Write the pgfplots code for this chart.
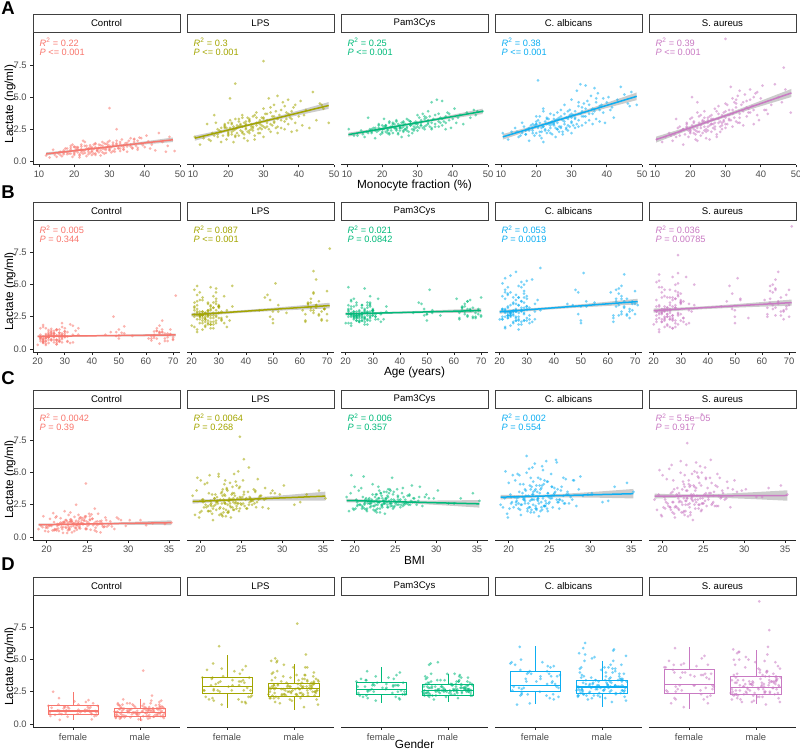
\documentclass[border=0pt]{standalone}
\usepackage{fontspec}
\setmainfont{Liberation Sans}
\usepackage{pgfplots}
\pgfplotsset{compat=1.18}
\usepackage{pgfplotstable}
\usepgfplotslibrary{statistics}

\definecolor{cC}{HTML}{F8766D}
\definecolor{cL}{HTML}{A3A500}
\definecolor{cP}{HTML}{00BA7A}
\definecolor{cA}{HTML}{0DAEF2}
\definecolor{cS}{HTML}{C97AC3}

\pgfplotstableread{
m age bmi sex jit c l p a s
30 71 24.8 2 0.05 4.15 7.8 nan 3.4 9.55
22 65 25.3 1 -0.12 1.3 6.05 3.1 3.9 4.6
46.5 29 23 2 0.2 1.2 4.4 3.6 4.3 7.3
20.5 35 22.2 2 -0.25 1.1 4.9 3.3 6.3 5.0
32 48 23.6 1 -0.3 2.5 4.2 3.5 4.6 4.9
12 22 21.5 2 0.15 0.45 1.3 2.0 1.7 1.5
14 24 20.3 2 -0.33 0.9 2.9 2.4 2.6 2.2
15 27 23.1 1 0.28 0.35 1.6 1.9 1.9 1.6
16 21 19.5 2 -0.05 0.75 3.6 3.4 3.0 3.3
17 28 22.8 2 0.34 0.55 1.9 2.2 2.1 2.0
18 26 24.5 1 -0.2 1.0 2.6 2.6 2.4 2.5
18.5 23 21.0 2 0.1 0.6 2.0 2.3 2.8 2.1
19 30 26.2 2 -0.36 0.9 2.8 2.9 2.2 2.7
19.5 25 22.3 1 0.22 1.3 1.7 2.1 2.0 1.9
20 22 20.7 2 -0.14 0.5 2.3 2.5 3.1 2.4
20.5 64 27.4 2 0.3 0.8 3.2 2.7 2.6 3.4
21 27 24.0 2 -0.27 0.7 2.1 2.3 2.3 2.2
21 33 23.5 1 0.08 1.1 3.0 2.8 3.5 3.0
21.5 24 19.8 2 0.36 0.45 1.5 2.2 1.8 1.7
22 29 25.0 2 -0.09 0.85 2.5 2.6 2.7 2.6
22 21 21.8 1 0.18 0.95 3.3 3.0 4.1 3.8
22.5 68 28.3 2 -0.32 0.6 2.2 2.4 2.4 2.3
23 26 22.9 2 0.25 1.2 2.7 2.7 2.9 2.8
23 50 24.7 1 -0.22 1.5 2.0 2.2 2.2 2.0
23.5 23 20.2 2 0.12 0.4 2.9 2.9 3.3 3.1
24 31 26.8 2 -0.38 0.95 2.3 2.5 2.6 2.4
24 63 23.3 1 0.33 1.0 3.6 3.2 3.7 3.9
24.5 25 21.4 2 -0.03 0.65 1.8 2.1 2.1 1.8
25 28 24.2 2 0.2 1.1 2.6 2.8 3.0 3.2
25 22 22.0 1 -0.17 0.75 3.1 2.6 2.8 2.7
25.5 66 29.1 2 0.07 1.3 3.4 3.0 3.2 3.5
26 27 20.9 2 -0.29 0.5 2.4 2.4 2.5 2.3
26 34 25.6 1 0.37 1.4 2.2 2.3 3.8 2.9
26.5 24 23.8 2 -0.1 0.9 2.9 2.9 3.4 3.3
27 29 22.6 2 0.16 1.05 3.5 3.3 4.0 4.1
27 70 26.0 2 -0.35 0.7 2.7 2.6 2.7 2.5
27.5 21 19.3 1 0.27 0.85 1.7 2.0 2.3 2.1
28 26 24.9 2 -0.24 1.2 3.0 2.8 3.1 3.0
28 49 27.9 2 0.04 1.0 3.8 3.1 4.4 4.3
28.5 23 21.2 2 0.31 0.6 2.5 2.5 2.6 2.7
29 30 23.0 1 -0.13 1.35 3.2 3.0 3.3 3.6
29 62 24.4 2 0.21 1.0 2.2 2.4 2.4 2.5
29.5 25 22.1 2 -0.31 1.15 2.8 2.9 3.6 3.2
30 28 20.5 1 0.11 0.9 4.1 3.6 4.8 4.5
30 35 25.3 2 -0.19 1.6 3.3 2.9 3.0 3.4
30.5 24 23.6 2 0.35 0.7 2.6 2.6 2.8 2.9
31 67 26.5 1 -0.06 1.2 3.7 3.2 3.9 4.0
31 27 21.7 2 0.24 1.45 3.0 2.8 3.4 3.3
31.5 22 24.1 2 -0.34 0.95 4.9 3.7 5.5 5.8
32 31 22.4 2 0.14 1.3 2.9 2.7 3.2 3.7
32.5 26 25.8 1 -0.23 1.05 3.5 3.4 6.0 4.6
33 69 27.2 2 0.29 1.5 3.1 3.0 3.5 3.1
33 23 20.0 2 -0.01 0.8 4.4 3.9 4.2 4.8
33.5 29 23.9 1 0.19 1.7 3.9 3.5 4.5 5.1
34 51 24.6 2 -0.28 1.25 5.1 4.6 5.9 5.5
34 25 21.9 2 0.09 1.1 2.7 2.6 3.0 3.0
34.5 64 28.8 1 -0.37 1.4 3.6 3.3 4.7 4.4
35 28 22.7 2 0.26 0.75 3.2 2.9 3.7 3.9
35.5 21 19.6 2 -0.15 1.6 4.6 4.8 5.1 5.2
36 33 26.3 2 0.32 1.8 2.5 2.7 2.9 3.5
36 65 24.3 1 -0.08 1.3 4.3 3.7 4.1 4.7
36.5 24 23.2 2 0.17 1.0 3.8 3.4 5.7 4.1
37 27 21.1 2 -0.26 1.5 4.8 4.7 4.9 5.6
37 52 25.5 1 0.02 1.75 2.9 2.8 3.3 3.8
37.5 30 22.5 2 0.36 1.2 3.4 3.1 5.3 4.3
38 68 27.6 2 -0.18 0.9 2.3 2.5 3.1 2.9
38.5 22 20.8 1 0.23 1.85 4.2 3.8 4.4 5.3
39 26 24.0 2 -0.3 1.4 3.0 3.2 3.8 3.6
40 63 26.7 2 0.13 1.1 3.5 3.3 4.6 4.9
40.5 29 22.2 1 -0.21 2.0 4.7 4.1 5.0 5.9
41 25 23.4 2 0.06 1.55 2.8 3.0 4.0 4.0
42 47 30.2 2 0.3 1.3 4.0 3.6 3.4 3.7
43 23 21.3 1 -0.35 0.85 2.6 2.9 4.8 4.4
44 66 25.9 2 0.18 2.2 5.4 3.8 5.8 6.0
45 28 24.2 2 -0.11 1.5 3.2 3.4 5.2 5.0
46 70 27.0 1 0.28 0.75 4.5 4.0 4.5 4.6
47 32 22.9 2 -0.25 1.9 4.1 3.9 5.4 5.6
48.5 61 28.0 2 0.1 0.8 3.0 3.9 4.4 3.8
13 20 22.5 1 -0.2 0.3 1.8 2.0 2.3 1.9
15.5 31 24.8 2 0.05 0.6 2.2 2.3 2.0 2.1
16.5 65 26.1 2 -0.3 0.4 3.0 2.5 2.7 2.6
17.5 24 21.6 2 0.33 1.0 2.4 2.6 2.5 2.4
18 22 23.7 1 -0.08 0.55 1.5 1.8 1.6 1.3
19 68 27.8 2 0.19 1.2 2.9 2.8 2.9 3.0
20 26 20.1 2 -0.35 0.7 2.0 2.2 2.2 2.3
20.5 29 25.2 1 0.25 0.95 2.6 2.5 3.2 2.8
21 50 23.9 2 -0.15 1.05 2.3 2.7 2.0 2.5
21.5 23 22.0 2 0.02 0.3 2.7 2.4 2.6 2.1
22 27 19.9 1 -0.27 0.7 1.9 2.1 1.5 1.6
23 63 29.7 2 0.37 0.85 3.3 3.0 3.3 3.6
23.5 30 24.4 2 -0.04 1.0 2.4 2.6 2.4 2.2
24 22 21.0 2 0.2 0.55 3.4 3.1 3.0 3.4
24.5 25 23.1 1 -0.32 1.25 2.1 2.2 2.9 2.5
25 55 26.4 2 0.13 1.0 2.8 2.6 3.6 2.4
25.5 28 22.7 2 -0.21 0.6 1.6 1.9 1.9 1.7
26 69 25.1 2 0.3 1.1 3.1 2.7 3.0 3.3
26.5 21 20.6 1 -0.11 0.85 2.5 2.5 2.3 2.6
27 24 24.6 2 0.34 1.3 2.6 2.4 2.6 3.0
27.5 32 23.4 2 -0.36 0.45 2.0 2.3 2.1 1.9
28 66 28.6 1 0.08 1.5 3.4 3.1 3.7 3.7
28.5 26 21.5 2 -0.18 0.95 2.2 2.2 2.5 2.3
29 22 22.8 2 0.26 0.65 2.9 2.7 3.9 2.8
29.5 49 31.5 2 -0.07 1.3 2.5 2.6 2.7 3.1
30 27 23.3 1 0.17 1.0 1.9 2.4 2.2 2.6
31 62 26.9 2 -0.29 0.8 2.7 2.8 2.6 3.2
32 25 20.4 2 0.04 1.4 2.3 2.5 2.7 2.7
33 29 24.5 1 -0.24 1.0 3.0 2.9 2.8 4.2
34 70 25.7 2 0.31 0.9 2.2 2.5 3.5 3.4
35 23 22.1 2 -0.13 1.15 2.6 2.7 3.2 2.8
36.5 30 33.0 1 0.21 1.05 3.3 3.0 3.9 3.8
38 64 24.8 2 -0.33 1.6 3.9 3.5 4.3 5.0
39.5 28 23.6 2 0.09 1.25 2.4 2.6 3.0 3.2
41.5 26 34.5 1 -0.22 1.0 3.6 3.4 4.2 4.0
20 45 35.3 2 0.27 1.1 3.0 2.8 3.5 3.3
24 24 32.2 2 -0.16 0.9 2.7 2.6 2.8 3.1
26 21 19.0 2 0.12 0.6 3.2 3.1 2.5 2.9
14.5 33 22.6 2 -0.28 0.5 1.7 2.1 2.3 2.0
17 62 24.1 1 0.35 0.65 2.1 2.3 2.1 2.7
19.5 27 26.6 2 -0.02 0.35 2.6 2.5 2.8 2.4
22.5 30 21.2 1 0.3 1.6 2.8 2.6 3.1 3.5
10.5 26 23.4 2 -0.06 nan 1.9 2.5 2.2 1.7
18 25 22.4 2 0.14 0.7 2.3 2.4 2.6 2.5
19 23 24.3 2 -0.19 1.05 2.7 2.6 2.4 2.9
20 28 21.9 1 0.32 0.6 2.1 2.3 2.9 2.2
21 26 23.6 2 -0.07 0.9 2.9 2.8 3.0 3.1
21.5 31 25.4 2 0.21 0.55 2.4 2.5 2.3 2.4
22 24 20.9 2 -0.3 1.15 2.0 2.2 2.7 2.3
22.5 22 23.0 1 0.07 0.8 2.6 2.7 2.5 3.0
23 27 24.8 2 -0.24 0.65 3.1 2.9 3.4 2.6
23.5 65 26.2 2 0.27 1.2 2.8 2.6 2.9 3.2
24 29 22.3 2 -0.12 0.75 2.2 2.4 2.2 2.7
24.5 21 21.7 1 0.18 1.1 3.0 2.9 3.1 2.3
25 26 25.9 2 -0.36 0.5 2.5 2.4 2.9 3.4
25.5 23 23.7 2 0.03 0.95 2.3 2.6 2.6 2.8
26 30 22.9 2 0.3 1.35 3.3 3.0 3.3 3.6
26.5 67 24.0 1 -0.2 0.8 2.7 2.5 2.7 2.9
27 25 21.3 2 0.11 1.0 2.4 2.7 3.5 2.7
27.5 28 26.7 2 -0.28 1.25 3.6 3.2 3.2 3.9
28 22 23.5 2 0.23 0.7 2.8 2.8 2.9 3.3
28.5 64 25.6 2 -0.09 1.4 3.0 2.9 3.4 3.1
29 24 22.6 1 0.35 0.9 2.6 2.5 2.8 3.0
29.5 27 24.1 2 -0.33 1.5 3.4 3.1 4.0 3.8
30 21 20.3 2 0.08 0.85 2.7 2.7 3.1 2.9
30.5 29 23.2 2 -0.16 1.1 3.7 3.4 3.6 4.4
31 66 27.3 1 0.26 1.3 3.2 3.0 3.3 3.6
31.5 25 21.8 2 -0.04 0.75 2.5 2.6 2.9 3.2
32 23 24.7 2 0.16 1.6 3.8 3.3 4.3 4.0
32.5 28 22.0 2 -0.27 1.0 2.8 2.8 3.7 3.4
33 63 25.3 2 0.33 1.35 3.5 3.2 3.9 4.5
33.5 26 23.0 1 -0.14 1.2 2.6 2.7 3.5 3.0
34 30 21.4 2 0.2 0.95 3.3 3.0 4.1 3.7
35 24 24.4 2 -0.31 1.45 4.0 3.6 4.4 4.6
36 69 26.0 2 0.06 1.15 3.1 3.1 3.7 4.2
37 22 22.7 2 0.29 1.7 3.7 3.3 4.6 4.8
38 27 23.8 1 -0.1 1.05 3.3 3.0 4.0 4.0
39 65 25.2 2 0.17 1.8 4.4 3.7 4.9 5.4
16 29 21.2 2 -0.23 0.5 2.0 2.2 2.2 1.9
17 23 23.3 2 0.28 0.85 2.5 2.5 2.4 2.3
19 67 24.9 1 -0.34 0.6 2.6 2.4 2.6 2.6
20 24 22.8 2 0.13 1.15 2.2 2.5 2.9 2.5
25 50 27.1 2 -0.05 0.8 2.9 2.7 3.3 3.0
30 52 23.9 1 0.24 1.2 3.4 3.0 3.7 3.9
}\donors

\pgfplotsset{
  fp/.style={scale only axis, width=147pt, height=131.5pt, anchor=south west,
    ymin=-0.25, ymax=10,
    axis x line=bottom, axis y line=left,
    axis line style={-, black!85, line width=0.55pt},
    tick style={black!85, line width=0.55pt}, major tick length=2.75pt, tick align=outside,
    ytick={0,2.5,5,7.5}, yticklabels={0.0,2.5,5.0,7.5},
    tick label style={font=\fontsize{9.4}{11}\selectfont, text=black!70},
    clip=false},
  inner/.style={axis y line=none},
  first/.style={},
  rA/.style={xmin=8.3, xmax=50, xtick={10,20,30,40,50}, xticklabels={10,20,30,40,50}},
  rB/.style={xmin=18.26, xmax=72.58, xtick={20,30,40,50,60,70}, xticklabels={20,30,40,50,60,70}},
  rC/.style={xmin=18.32, xmax=36.35, xtick={20,25,30,35}, xticklabels={20,25,30,35}},
  rD/.style={xmin=0.4, xmax=2.6, xtick={1,2}, xticklabels={female,male}, boxplot/draw direction=y,
    boxplot/every median/.style={line width=1.3pt}},
  pts/.style={color=#1, only marks, mark=*, mark size=1.5pt,
    mark options={draw=#1, draw opacity=0, fill=#1, fill opacity=0.55}},
}

\newcommand{\scatax}[9]{%
\begin{axis}[fp, #3, #4, at={(#1pt,-#2pt)}]
\addplot[pts=#7] table[x=#5, y=#6]{\donors};
\addplot[draw=none, fill=black, fill opacity=0.2] coordinates {#8} -- cycle;
\addplot[#7, line width=1.5pt] coordinates {#9};
\end{axis}}

\newcommand{\bx}[7]{\addplot[#1, line width=0.75pt, boxplot prepared={draw position=#2, lower whisker=#3, lower quartile=#4, median=#5, upper quartile=#6, upper whisker=#7, box extend=0.75, whisker extend=0}] coordinates {};}

\newcommand{\boxax}[5]{%
\begin{axis}[fp, rD, #2, at={(#1pt,-727pt)}]
\addplot[pts=#4] table[x expr=\thisrow{sex}+\thisrow{jit}, y=#3]{\donors};
#5
\end{axis}}

\newcommand{\strip}[3]{%
\draw[black!75, line width=0.65pt, fill=white] (#1pt,-#2pt+0.5pt) rectangle (#1pt+147pt,-#2pt+18.5pt);
\node[font=\fontsize{9.6}{11}\selectfont] at (#1pt+73.5pt,-#2pt+9.5pt) {#3};}

\newcommand{\ann}[5]{%
\node[anchor=west, text=#3, font=\fontsize{9.2}{10}\selectfont, inner sep=0pt] at (#1pt+6.5pt,-#2pt-9.3pt) {\textit{R}\textsuperscript{2} = #4};
\node[anchor=west, text=#3, font=\fontsize{9.2}{10}\selectfont, inner sep=0pt] at (#1pt+6.5pt,-#2pt-19.3pt) {\textit{P} #5};}

\begin{document}
\begin{tikzpicture}
\path[use as bounding box] (0pt,0pt) rectangle (800pt,-752pt);

% ---------- Row A: monocyte fraction ----------
\scatax{33}{164.5}{rA}{first}{m}{c}{cC}{(12,0.70) (18,0.848) (26,1.067) (34,1.336) (40,1.554) (48,1.854) (48,1.502) (40,1.314) (34,1.166) (26,0.947) (18,0.678) (12,0.46)}{(12,0.58) (48,1.678)}
\scatax{187}{164.5}{rA}{inner}{m}{l}{cL}{(10.5,2.0) (18,2.433) (26,2.932) (34,3.505) (40,3.962) (48.5,4.618) (48.5,4.082) (40,3.598) (34,3.251) (26,2.752) (18,2.179) (10.5,1.6)}{(10.5,1.8) (48.5,4.35)}
\scatax{341}{164.5}{rA}{inner}{m}{p}{cP}{(10.4,2.233) (18,2.541) (26,2.893) (34,3.302) (40,3.63) (48.5,4.102) (48.5,3.684) (40,3.348) (34,3.104) (26,2.753) (18,2.343) (10.4,1.927)}{(10.4,2.08) (48.5,3.893)}
\scatax{495}{164.5}{rA}{inner}{m}{a}{cA}{(10.5,2.122) (18,2.669) (26,3.293) (34,4.0) (40,4.56) (48.5,5.363) (48.5,4.767) (40,4.156) (34,3.718) (26,3.093) (18,2.387) (10.5,1.686)}{(10.5,1.904) (48.5,5.065)}
\scatax{649}{164.5}{rA}{inner}{m}{s}{cS}{(10.3,1.921) (18,2.568) (26,3.282) (34,4.083) (40,4.715) (48.7,5.643) (48.7,5.011) (40,4.291) (34,3.787) (26,3.072) (18,2.272) (10.3,1.459)}{(10.3,1.69) (48.7,5.327)}

% ---------- Row B: age ----------
\scatax{33}{352}{rB}{first}{age}{c}{cC}{(20,1.042) (30,1.046) (38,1.058) (50,1.095) (60,1.138) (71,1.189) (71,0.971) (60,0.974) (50,0.973) (38,0.958) (30,0.936) (20,0.898)}{(20,0.97) (71,1.08)}
\scatax{187}{352}{rB}{inner}{age}{l}{cL}{(20,2.794) (30,2.895) (38,3.0) (50,3.193) (60,3.377) (71,3.588) (71,3.152) (60,3.049) (50,2.949) (38,2.8) (30,2.675) (20,2.506)}{(20,2.65) (71,3.37)}
\scatax{341}{352}{rB}{inner}{age}{p}{cP}{(20,2.835) (30,2.859) (38,2.894) (50,2.976) (60,3.063) (70,3.146) (70,2.814) (60,2.801) (50,2.78) (38,2.734) (30,2.683) (20,2.605)}{(20,2.72) (70,2.98)}
\scatax{495}{352}{rB}{inner}{age}{a}{cA}{(20,3.024) (30,3.14) (38,3.257) (50,3.469) (60,3.67) (71,3.898) (71,3.462) (60,3.342) (50,3.225) (38,3.057) (30,2.92) (20,2.736)}{(20,2.88) (71,3.68)}
\scatax{649}{352}{rB}{inner}{age}{s}{cS}{(20,3.138) (30,3.219) (38,3.305) (50,3.477) (60,3.645) (71,3.84) (71,3.36) (60,3.285) (50,3.207) (38,3.085) (30,2.975) (20,2.822)}{(20,2.98) (71,3.6)}

% ---------- Row C: BMI ----------
\scatax{33}{540}{rC}{first}{bmi}{c}{cC}{(19,1.027) (22,1.025) (24,1.038) (27,1.087) (31,1.176) (35.3,1.285) (35.3,0.915) (31,0.936) (27,0.947) (24,0.938) (22,0.911) (19,0.853)}{(19,0.94) (35.3,1.10)}
\scatax{187}{540}{rC}{inner}{bmi}{l}{cL}{(19,2.915) (22,2.932) (24,2.97) (27,3.084) (31,3.283) (35.3,3.521) (35.3,2.819) (31,2.827) (27,2.82) (24,2.78) (22,2.716) (19,2.585)}{(19,2.75) (35.3,3.17)}
\scatax{341}{540}{rC}{inner}{bmi}{p}{cP}{(19,2.969) (22,2.875) (24,2.832) (27,2.816) (31,2.833) (35.3,2.865) (35.3,2.275) (31,2.449) (27,2.594) (24,2.672) (22,2.693) (19,2.691)}{(19,2.83) (35.3,2.57)}
\scatax{495}{540}{rC}{inner}{bmi}{a}{cA}{(19,3.264) (22,3.252) (24,3.271) (27,3.359) (31,3.526) (35.3,3.729) (35.3,2.991) (31,3.046) (27,3.081) (24,3.071) (22,3.024) (19,2.916)}{(19,3.09) (35.3,3.36)}
\scatax{649}{540}{rC}{inner}{bmi}{s}{cS}{(19,3.361) (22,3.304) (24,3.295) (27,3.347) (31,3.47) (35.3,3.626) (35.3,2.814) (31,2.942) (27,3.041) (24,3.075) (22,3.054) (19,2.979)}{(19,3.17) (35.3,3.22)}

% ---------- Row D: gender ----------
\boxax{33}{first}{c}{cC}{\bx{cC}{1}{0.29}{0.70}{0.99}{1.45}{2.49}\bx{cC}{2}{0.2}{0.6}{0.86}{1.18}{1.92}}
\boxax{187}{inner}{l}{cL}{\bx{cL}{1}{1.25}{2.37}{2.93}{3.58}{5.35}\bx{cL}{2}{1.07}{2.16}{2.75}{3.19}{4.65}}
\boxax{341}{inner}{p}{cP}{\bx{cP}{1}{1.59}{2.31}{2.68}{3.22}{4.39}\bx{cP}{2}{1.71}{2.18}{2.62}{3.04}{3.92}}
\boxax{495}{inner}{a}{cA}{\bx{cA}{1}{1.53}{2.49}{2.99}{4.05}{6.05}\bx{cA}{2}{1.32}{2.36}{2.88}{3.40}{4.9}}
\boxax{649}{inner}{s}{cS}{\bx{cS}{1}{1.12}{2.41}{3.09}{4.23}{5.95}\bx{cS}{2}{1.53}{2.29}{2.83}{3.71}{5.79}}

% ---------- strips ----------
\foreach \t in {33,220.5,408.5,595.5}{
  \strip{33}{\t}{Control}
  \strip{187}{\t}{LPS}
  \strip{341}{\t}{Pam3Cys}
  \strip{495}{\t}{C. albicans}
  \strip{649}{\t}{S. aureus}
}

% ---------- annotations ----------
\ann{33}{33}{cC}{0.22}{<= 0.001}
\ann{187}{33}{cL}{0.3}{<= 0.001}
\ann{341}{33}{cP}{0.25}{<= 0.001}
\ann{495}{33}{cA}{0.38}{<= 0.001}
\ann{649}{33}{cS}{0.39}{<= 0.001}
\ann{33}{220.5}{cC}{0.005}{= 0.344}
\ann{187}{220.5}{cL}{0.087}{<= 0.001}
\ann{341}{220.5}{cP}{0.021}{= 0.0842}
\ann{495}{220.5}{cA}{0.053}{= 0.0019}
\ann{649}{220.5}{cS}{0.036}{= 0.00785}
\ann{33}{408.5}{cC}{0.0042}{= 0.39}
\ann{187}{408.5}{cL}{0.0064}{= 0.268}
\ann{341}{408.5}{cP}{0.006}{= 0.357}
\ann{495}{408.5}{cA}{0.002}{= 0.554}
\ann{649}{408.5}{cS}{5.5e−05}{= 0.917}

% ---------- axis titles ----------
\foreach \yy in {104,291.5,479.5,666.5}{
  \node[rotate=90, font=\fontsize{11.8}{13}\selectfont] at (10pt,-\yy pt) {Lactate (ng/ml)};
}
\node[font=\fontsize{11.8}{13}\selectfont] at (414.5pt,-185pt) {Monocyte fraction (\%)};
\node[font=\fontsize{11.8}{13}\selectfont] at (414.5pt,-372.5pt) {Age (years)};
\node[font=\fontsize{11.8}{13}\selectfont] at (414.5pt,-560pt) {BMI};
\node[font=\fontsize{11.8}{13}\selectfont, inner sep=1pt] at (414.5pt,-744.5pt) {Gender};

% ---------- panel letters ----------
\node[font=\bfseries\fontsize{18.5}{20}\selectfont] at (8pt,-8.5pt) {A};
\node[font=\bfseries\fontsize{18.5}{20}\selectfont] at (8pt,-192pt) {B};
\node[font=\bfseries\fontsize{18.5}{20}\selectfont] at (8pt,-378.5pt) {C};
\node[font=\bfseries\fontsize{18.5}{20}\selectfont] at (8pt,-564pt) {D};
\end{tikzpicture}
\end{document}
